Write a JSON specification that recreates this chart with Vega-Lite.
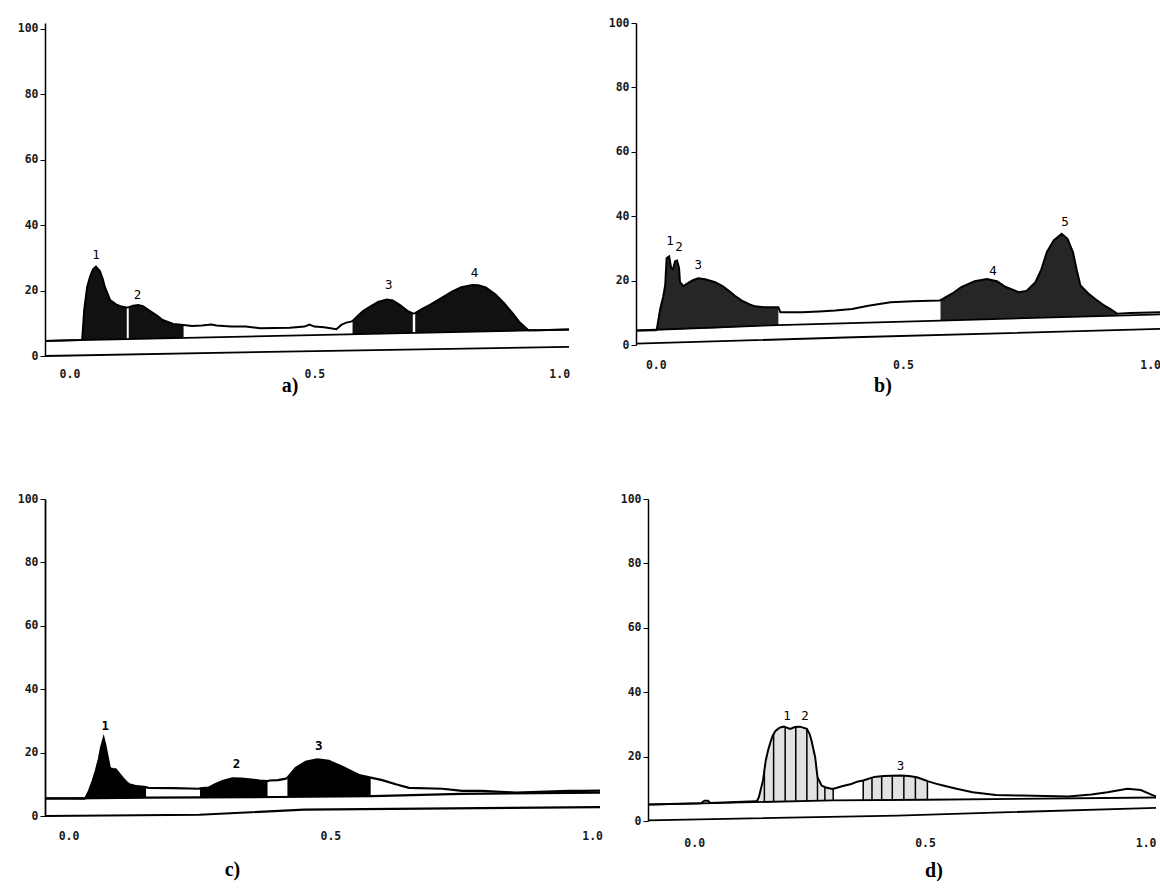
{
"$schema": "https://vega.github.io/schema/vega-lite/v6.json",
"background": "white",
"padding": {"left": 17, "top": 17, "right": 0, "bottom": 0},
"config": {
  "view": {"stroke": null},
  "axis": {"grid": false, "domainColor": "black", "tickColor": "black", "labelColor": "#1a1a1a", "labelFont": "DejaVu Sans Mono", "labelFontSize": 11.5, "labelFontWeight": "bold", "title": null},
  "text": {"font": "DejaVu Sans Mono", "fontSize": 12.5, "color": "black", "baseline": "middle"}
},
"datasets": {
"curve": [
{"p":"a","x":-0.05,"y":4.6,"b":4.6,"s":""},{"p":"a","x":0.02,"y":4.9,"b":4.9,"s":""},
{"p":"a","x":0.026,"y":5.0,"b":4.9,"s":"p1"},{"p":"a","x":0.03,"y":14.0,"b":4.9,"s":"p1"},{"p":"a","x":0.036,"y":21.0,"b":4.9,"s":"p1"},{"p":"a","x":0.042,"y":24.3,"b":4.9,"s":"p1"},{"p":"a","x":0.048,"y":26.5,"b":5.0,"s":"p1"},{"p":"a","x":0.054,"y":27.3,"b":5.0,"s":"p1"},{"p":"a","x":0.062,"y":26.0,"b":5.0,"s":"p1"},{"p":"a","x":0.068,"y":23.5,"b":5.0,"s":"p1"},{"p":"a","x":0.072,"y":21.2,"b":5.0,"s":"p1"},{"p":"a","x":0.083,"y":17.1,"b":5.1,"s":"p1"},{"p":"a","x":0.095,"y":15.8,"b":5.1,"s":"p1"},{"p":"a","x":0.106,"y":15.1,"b":5.1,"s":"p1"},{"p":"a","x":0.117,"y":14.8,"b":5.2,"s":"p1"},
{"p":"a","x":0.121,"y":14.9,"b":5.2,"s":"p2"},{"p":"a","x":0.13,"y":15.4,"b":5.2,"s":"p2"},{"p":"a","x":0.14,"y":15.6,"b":5.2,"s":"p2"},{"p":"a","x":0.15,"y":15.2,"b":5.3,"s":"p2"},{"p":"a","x":0.167,"y":13.5,"b":5.3,"s":"p2"},{"p":"a","x":0.18,"y":12.2,"b":5.4,"s":"p2"},{"p":"a","x":0.19,"y":11.0,"b":5.4,"s":"p2"},{"p":"a","x":0.212,"y":9.8,"b":5.5,"s":"p2"},{"p":"a","x":0.233,"y":9.5,"b":5.5,"s":"p2"},
{"p":"a","x":0.25,"y":9.2,"b":5.6,"s":""},{"p":"a","x":0.27,"y":9.3,"b":5.6,"s":""},{"p":"a","x":0.29,"y":9.6,"b":5.7,"s":""},{"p":"a","x":0.3,"y":9.3,"b":5.7,"s":""},{"p":"a","x":0.33,"y":9.0,"b":5.8,"s":""},{"p":"a","x":0.36,"y":9.0,"b":5.9,"s":""},{"p":"a","x":0.39,"y":8.5,"b":6.0,"s":""},{"p":"a","x":0.45,"y":8.6,"b":6.2,"s":""},{"p":"a","x":0.48,"y":9.0,"b":6.3,"s":""},{"p":"a","x":0.49,"y":9.6,"b":6.3,"s":""},{"p":"a","x":0.5,"y":9.0,"b":6.3,"s":""},{"p":"a","x":0.52,"y":8.8,"b":6.4,"s":""},{"p":"a","x":0.545,"y":8.2,"b":6.5,"s":""},{"p":"a","x":0.555,"y":9.5,"b":6.5,"s":""},{"p":"a","x":0.565,"y":10.2,"b":6.6,"s":""},{"p":"a","x":0.575,"y":10.5,"b":6.6,"s":""},
{"p":"a","x":0.578,"y":10.7,"b":6.6,"s":"p3"},{"p":"a","x":0.59,"y":12.5,"b":6.7,"s":"p3"},{"p":"a","x":0.6,"y":13.8,"b":6.7,"s":"p3"},{"p":"a","x":0.614,"y":15.1,"b":6.8,"s":"p3"},{"p":"a","x":0.63,"y":16.5,"b":6.8,"s":"p3"},{"p":"a","x":0.648,"y":17.3,"b":6.9,"s":"p3"},{"p":"a","x":0.66,"y":17.0,"b":6.9,"s":"p3"},{"p":"a","x":0.675,"y":15.6,"b":6.9,"s":"p3"},{"p":"a","x":0.69,"y":13.8,"b":7.0,"s":"p3"},{"p":"a","x":0.701,"y":13.0,"b":7.0,"s":"p3"},
{"p":"a","x":0.706,"y":13.1,"b":7.0,"s":"p4"},{"p":"a","x":0.72,"y":14.4,"b":7.1,"s":"p4"},{"p":"a","x":0.736,"y":15.6,"b":7.1,"s":"p4"},{"p":"a","x":0.76,"y":17.8,"b":7.2,"s":"p4"},{"p":"a","x":0.781,"y":19.7,"b":7.3,"s":"p4"},{"p":"a","x":0.8,"y":21.0,"b":7.3,"s":"p4"},{"p":"a","x":0.823,"y":21.7,"b":7.4,"s":"p4"},{"p":"a","x":0.835,"y":21.6,"b":7.4,"s":"p4"},{"p":"a","x":0.85,"y":21.0,"b":7.5,"s":"p4"},{"p":"a","x":0.87,"y":18.8,"b":7.5,"s":"p4"},{"p":"a","x":0.888,"y":16.1,"b":7.6,"s":"p4"},{"p":"a","x":0.905,"y":13.0,"b":7.6,"s":"p4"},{"p":"a","x":0.918,"y":10.5,"b":7.7,"s":"p4"},{"p":"a","x":0.937,"y":7.9,"b":7.7,"s":"p4"},
{"p":"a","x":0.96,"y":7.9,"b":7.8,"s":""},{"p":"a","x":1.02,"y":8.1,"b":8.1,"s":""},

{"p":"b","x":-0.04,"y":4.5,"b":4.5,"s":""},{"p":"b","x":0.0,"y":4.6,"b":4.6,"s":""},
{"p":"b","x":0.002,"y":4.8,"b":4.7,"s":"s1"},{"p":"b","x":0.009,"y":11.2,"b":4.7,"s":"s1"},{"p":"b","x":0.015,"y":15.0,"b":4.7,"s":"s1"},{"p":"b","x":0.019,"y":18.5,"b":4.8,"s":"s1"},{"p":"b","x":0.022,"y":27.0,"b":4.8,"s":"s1"},{"p":"b","x":0.027,"y":27.5,"b":4.8,"s":"s1"},{"p":"b","x":0.031,"y":24.0,"b":4.8,"s":"s1"},{"p":"b","x":0.035,"y":23.6,"b":4.8,"s":"s1"},{"p":"b","x":0.039,"y":26.0,"b":4.8,"s":"s1"},{"p":"b","x":0.043,"y":26.2,"b":4.9,"s":"s1"},{"p":"b","x":0.047,"y":24.0,"b":4.9,"s":"s1"},{"p":"b","x":0.049,"y":19.5,"b":4.9,"s":"s1"},{"p":"b","x":0.056,"y":18.3,"b":4.9,"s":"s1"},{"p":"b","x":0.065,"y":19.2,"b":5.0,"s":"s1"},{"p":"b","x":0.075,"y":20.1,"b":5.0,"s":"s1"},{"p":"b","x":0.086,"y":20.7,"b":5.1,"s":"s1"},{"p":"b","x":0.1,"y":20.4,"b":5.1,"s":"s1"},{"p":"b","x":0.12,"y":19.5,"b":5.2,"s":"s1"},{"p":"b","x":0.135,"y":18.3,"b":5.3,"s":"s1"},{"p":"b","x":0.147,"y":16.9,"b":5.4,"s":"s1"},{"p":"b","x":0.16,"y":15.3,"b":5.5,"s":"s1"},{"p":"b","x":0.174,"y":13.8,"b":5.6,"s":"s1"},{"p":"b","x":0.19,"y":12.6,"b":5.7,"s":"s1"},{"p":"b","x":0.201,"y":12.0,"b":5.8,"s":"s1"},{"p":"b","x":0.22,"y":11.7,"b":6.0,"s":"s1"},{"p":"b","x":0.248,"y":11.7,"b":6.2,"s":"s1"},
{"p":"b","x":0.252,"y":10.2,"b":6.2,"s":""},{"p":"b","x":0.296,"y":10.2,"b":6.4,"s":""},{"p":"b","x":0.33,"y":10.4,"b":6.6,"s":""},{"p":"b","x":0.363,"y":10.7,"b":6.7,"s":""},{"p":"b","x":0.397,"y":11.2,"b":6.9,"s":""},{"p":"b","x":0.43,"y":12.2,"b":7.0,"s":""},{"p":"b","x":0.475,"y":13.3,"b":7.2,"s":""},{"p":"b","x":0.52,"y":13.6,"b":7.4,"s":""},{"p":"b","x":0.573,"y":13.8,"b":7.6,"s":""},
{"p":"b","x":0.576,"y":13.9,"b":7.6,"s":"s2"},{"p":"b","x":0.6,"y":16.0,"b":7.7,"s":"s2"},{"p":"b","x":0.618,"y":18.0,"b":7.8,"s":"s2"},{"p":"b","x":0.645,"y":19.8,"b":7.9,"s":"s2"},{"p":"b","x":0.67,"y":20.5,"b":8.0,"s":"s2"},{"p":"b","x":0.69,"y":19.8,"b":8.1,"s":"s2"},{"p":"b","x":0.708,"y":18.0,"b":8.2,"s":"s2"},{"p":"b","x":0.734,"y":16.4,"b":8.3,"s":"s2"},{"p":"b","x":0.75,"y":16.8,"b":8.4,"s":"s2"},{"p":"b","x":0.768,"y":19.5,"b":8.4,"s":"s2"},{"p":"b","x":0.78,"y":23.5,"b":8.5,"s":"s2"},{"p":"b","x":0.791,"y":28.8,"b":8.5,"s":"s2"},{"p":"b","x":0.805,"y":32.5,"b":8.6,"s":"s2"},{"p":"b","x":0.821,"y":34.5,"b":8.6,"s":"s2"},{"p":"b","x":0.833,"y":33.0,"b":8.7,"s":"s2"},{"p":"b","x":0.844,"y":28.8,"b":8.7,"s":"s2"},{"p":"b","x":0.852,"y":23.0,"b":8.8,"s":"s2"},{"p":"b","x":0.859,"y":18.5,"b":8.8,"s":"s2"},{"p":"b","x":0.875,"y":16.0,"b":8.9,"s":"s2"},{"p":"b","x":0.889,"y":14.3,"b":8.9,"s":"s2"},{"p":"b","x":0.905,"y":12.5,"b":9.0,"s":"s2"},{"p":"b","x":0.919,"y":11.2,"b":9.0,"s":"s2"},{"p":"b","x":0.934,"y":9.7,"b":9.1,"s":"s2"},
{"p":"b","x":0.96,"y":9.9,"b":9.2,"s":""},{"p":"b","x":1.02,"y":10.2,"b":9.5,"s":""},

{"p":"c","x":-0.045,"y":5.6,"b":5.5,"s":""},{"p":"c","x":0.03,"y":5.5,"b":5.5,"s":""},
{"p":"c","x":0.032,"y":5.6,"b":5.5,"s":"c1"},{"p":"c","x":0.039,"y":7.9,"b":5.5,"s":"c1"},{"p":"c","x":0.046,"y":11.0,"b":5.5,"s":"c1"},{"p":"c","x":0.052,"y":14.2,"b":5.5,"s":"c1"},{"p":"c","x":0.058,"y":18.0,"b":5.6,"s":"c1"},{"p":"c","x":0.062,"y":21.5,"b":5.6,"s":"c1"},{"p":"c","x":0.067,"y":24.5,"b":5.6,"s":"c1"},{"p":"c","x":0.07,"y":22.5,"b":5.6,"s":"c1"},{"p":"c","x":0.073,"y":20.0,"b":5.6,"s":"c1"},{"p":"c","x":0.079,"y":15.0,"b":5.6,"s":"c1"},{"p":"c","x":0.085,"y":14.8,"b":5.6,"s":"c1"},{"p":"c","x":0.09,"y":14.7,"b":5.6,"s":"c1"},{"p":"c","x":0.096,"y":13.5,"b":5.7,"s":"c1"},{"p":"c","x":0.103,"y":12.1,"b":5.7,"s":"c1"},{"p":"c","x":0.11,"y":10.8,"b":5.7,"s":"c1"},{"p":"c","x":0.116,"y":10.0,"b":5.7,"s":"c1"},{"p":"c","x":0.13,"y":9.4,"b":5.7,"s":"c1"},{"p":"c","x":0.148,"y":9.1,"b":5.8,"s":"c1"},
{"p":"c","x":0.152,"y":8.9,"b":5.8,"s":""},{"p":"c","x":0.2,"y":8.8,"b":5.8,"s":""},{"p":"c","x":0.249,"y":8.6,"b":5.9,"s":""},
{"p":"c","x":0.251,"y":8.7,"b":5.9,"s":"c2"},{"p":"c","x":0.268,"y":9.0,"b":5.9,"s":"c2"},{"p":"c","x":0.28,"y":10.0,"b":5.9,"s":"c2"},{"p":"c","x":0.294,"y":11.0,"b":5.9,"s":"c2"},{"p":"c","x":0.313,"y":11.9,"b":6.0,"s":"c2"},{"p":"c","x":0.33,"y":11.8,"b":6.0,"s":"c2"},{"p":"c","x":0.345,"y":11.6,"b":6.0,"s":"c2"},{"p":"c","x":0.365,"y":11.2,"b":6.0,"s":"c2"},{"p":"c","x":0.38,"y":11.0,"b":6.0,"s":"c2"},
{"p":"c","x":0.384,"y":11.2,"b":6.0,"s":""},{"p":"c","x":0.4,"y":11.3,"b":6.0,"s":""},{"p":"c","x":0.415,"y":11.8,"b":6.0,"s":""},
{"p":"c","x":0.418,"y":12.1,"b":6.0,"s":"c3"},{"p":"c","x":0.434,"y":15.2,"b":6.1,"s":"c3"},{"p":"c","x":0.453,"y":17.1,"b":6.1,"s":"c3"},{"p":"c","x":0.475,"y":17.9,"b":6.1,"s":"c3"},{"p":"c","x":0.497,"y":17.4,"b":6.2,"s":"c3"},{"p":"c","x":0.523,"y":15.5,"b":6.2,"s":"c3"},{"p":"c","x":0.54,"y":14.1,"b":6.2,"s":"c3"},{"p":"c","x":0.555,"y":12.9,"b":6.3,"s":"c3"},{"p":"c","x":0.577,"y":12.1,"b":6.3,"s":"c3"},
{"p":"c","x":0.599,"y":11.3,"b":6.4,"s":""},{"p":"c","x":0.625,"y":10.0,"b":6.5,"s":""},{"p":"c","x":0.65,"y":8.9,"b":6.6,"s":""},{"p":"c","x":0.714,"y":8.6,"b":6.9,"s":""},{"p":"c","x":0.752,"y":7.9,"b":7.0,"s":""},{"p":"c","x":0.79,"y":7.9,"b":7.1,"s":""},{"p":"c","x":0.854,"y":7.4,"b":7.2,"s":""},{"p":"c","x":0.956,"y":7.9,"b":7.3,"s":""},{"p":"c","x":0.981,"y":7.9,"b":7.4,"s":""},{"p":"c","x":1.015,"y":8.0,"b":7.4,"s":""},

{"p":"d","x":-0.1,"y":5.1,"b":5.1,"s":""},{"p":"d","x":0.015,"y":5.5,"b":5.5,"s":""},{"p":"d","x":0.022,"y":6.3,"b":5.5,"s":""},{"p":"d","x":0.03,"y":6.3,"b":5.5,"s":""},{"p":"d","x":0.035,"y":5.6,"b":5.6,"s":""},{"p":"d","x":0.133,"y":6.1,"b":6.1,"s":""},
{"p":"d","x":0.136,"y":6.2,"b":6.1,"s":"d1"},{"p":"d","x":0.14,"y":7.4,"b":6.1,"s":"d1"},{"p":"d","x":0.149,"y":12.6,"b":6.2,"s":"d1"},{"p":"d","x":0.155,"y":18.8,"b":6.2,"s":"d1"},{"p":"d","x":0.16,"y":22.0,"b":6.2,"s":"d1"},{"p":"d","x":0.165,"y":24.4,"b":6.2,"s":"d1"},{"p":"d","x":0.17,"y":26.5,"b":6.2,"s":"d1"},{"p":"d","x":0.176,"y":28.0,"b":6.2,"s":"d1"},{"p":"d","x":0.185,"y":29.0,"b":6.2,"s":"d1"},{"p":"d","x":0.194,"y":29.3,"b":6.2,"s":"d1"},{"p":"d","x":0.208,"y":28.6,"b":6.3,"s":"d1"},{"p":"d","x":0.218,"y":29.2,"b":6.3,"s":"d1"},{"p":"d","x":0.229,"y":29.3,"b":6.3,"s":"d1"},{"p":"d","x":0.244,"y":28.6,"b":6.3,"s":"d1"},{"p":"d","x":0.25,"y":27.0,"b":6.3,"s":"d1"},{"p":"d","x":0.254,"y":25.0,"b":6.3,"s":"d1"},{"p":"d","x":0.262,"y":19.8,"b":6.3,"s":"d1"},{"p":"d","x":0.267,"y":13.6,"b":6.3,"s":"d1"},{"p":"d","x":0.276,"y":11.0,"b":6.4,"s":"d1"},{"p":"d","x":0.285,"y":10.4,"b":6.4,"s":"d1"},{"p":"d","x":0.297,"y":10.0,"b":6.4,"s":"d1"},{"p":"d","x":0.302,"y":10.0,"b":6.4,"s":"d1"},
{"p":"d","x":0.32,"y":10.8,"b":6.4,"s":""},{"p":"d","x":0.34,"y":11.5,"b":6.5,"s":""},{"p":"d","x":0.355,"y":12.3,"b":6.5,"s":""},
{"p":"d","x":0.366,"y":12.6,"b":6.5,"s":"d2"},{"p":"d","x":0.39,"y":13.7,"b":6.5,"s":"d2"},{"p":"d","x":0.41,"y":14.0,"b":6.5,"s":"d2"},{"p":"d","x":0.447,"y":14.1,"b":6.5,"s":"d2"},{"p":"d","x":0.465,"y":14.0,"b":6.6,"s":"d2"},{"p":"d","x":0.482,"y":13.6,"b":6.6,"s":"d2"},{"p":"d","x":0.496,"y":12.9,"b":6.6,"s":"d2"},{"p":"d","x":0.507,"y":12.3,"b":6.6,"s":"d2"},
{"p":"d","x":0.523,"y":11.6,"b":6.6,"s":""},{"p":"d","x":0.539,"y":11.0,"b":6.6,"s":""},{"p":"d","x":0.568,"y":10.0,"b":6.7,"s":""},{"p":"d","x":0.603,"y":8.9,"b":6.7,"s":""},{"p":"d","x":0.653,"y":8.1,"b":6.8,"s":""},{"p":"d","x":0.71,"y":7.9,"b":6.9,"s":""},{"p":"d","x":0.81,"y":7.6,"b":7.0,"s":""},{"p":"d","x":0.86,"y":8.2,"b":7.1,"s":""},{"p":"d","x":0.895,"y":8.9,"b":7.1,"s":""},{"p":"d","x":0.938,"y":10.0,"b":7.2,"s":""},{"p":"d","x":0.967,"y":9.6,"b":7.2,"s":""},{"p":"d","x":0.995,"y":7.9,"b":7.3,"s":""},{"p":"d","x":1.0,"y":7.6,"b":7.3,"s":""}
],
"guides": [
{"p":"a","k":"base","x":-0.05,"y":4.6},{"p":"a","k":"base","x":1.02,"y":8.1},
{"p":"a","k":"zero","x":-0.05,"y":0.0},{"p":"a","k":"zero","x":0.5,"y":1.5},{"p":"a","k":"zero","x":1.02,"y":2.8},
{"p":"b","k":"base","x":-0.04,"y":4.5},{"p":"b","k":"base","x":0.248,"y":6.2},{"p":"b","k":"base","x":0.576,"y":7.6},{"p":"b","k":"base","x":0.934,"y":9.1},{"p":"b","k":"base","x":1.02,"y":9.5},
{"p":"b","k":"zero","x":-0.04,"y":0.4},{"p":"b","k":"zero","x":0.4,"y":2.4},{"p":"b","k":"zero","x":1.02,"y":5.0},
{"p":"c","k":"base","x":-0.045,"y":5.5},{"p":"c","k":"base","x":0.15,"y":5.8},{"p":"c","k":"base","x":0.4,"y":6.0},{"p":"c","k":"base","x":0.58,"y":6.3},{"p":"c","k":"base","x":0.75,"y":7.0},{"p":"c","k":"base","x":1.015,"y":7.4},
{"p":"c","k":"zero","x":-0.045,"y":0.0},{"p":"c","k":"zero","x":0.25,"y":0.4},{"p":"c","k":"zero","x":0.45,"y":2.0},{"p":"c","k":"zero","x":1.015,"y":2.8},
{"p":"d","k":"base","x":-0.1,"y":5.1},{"p":"d","k":"base","x":0.3,"y":6.4},{"p":"d","k":"base","x":0.5,"y":6.6},{"p":"d","k":"base","x":1.0,"y":7.3},
{"p":"d","k":"zero","x":-0.1,"y":0.2},{"p":"d","k":"zero","x":0.44,"y":1.7},{"p":"d","k":"zero","x":1.0,"y":4.1}
],
"labels": [
{"p":"a","x":0.054,"y":30.9,"t":"1"},{"p":"a","x":0.139,"y":18.7,"t":"2"},{"p":"a","x":0.652,"y":21.7,"t":"3"},{"p":"a","x":0.827,"y":25.3,"t":"4"},
{"p":"b","x":0.029,"y":32.4,"t":"1"},{"p":"b","x":0.047,"y":30.5,"t":"2"},{"p":"b","x":0.086,"y":24.7,"t":"3"},{"p":"b","x":0.682,"y":23.1,"t":"4"},{"p":"b","x":0.828,"y":38.1,"t":"5"},
{"p":"c","x":0.07,"y":28.4,"t":"1"},{"p":"c","x":0.321,"y":16.3,"t":"2"},{"p":"c","x":0.478,"y":22.1,"t":"3"},
{"p":"d","x":0.201,"y":32.7,"t":"1"},{"p":"d","x":0.24,"y":32.7,"t":"2"},{"p":"d","x":0.447,"y":17.2,"t":"3"}
],
"rules": [
{"x":0.152,"y":15.5,"b":6.2},{"x":0.172,"y":27.0,"b":6.2},{"x":0.197,"y":29.2,"b":6.2},{"x":0.22,"y":29.2,"b":6.3},{"x":0.244,"y":28.6,"b":6.3},{"x":0.267,"y":13.6,"b":6.3},{"x":0.283,"y":10.5,"b":6.4},{"x":0.301,"y":10.0,"b":6.4},
{"x":0.366,"y":12.6,"b":6.5},{"x":0.385,"y":13.5,"b":6.5},{"x":0.406,"y":13.9,"b":6.5},{"x":0.429,"y":14.1,"b":6.5},{"x":0.454,"y":14.1,"b":6.5},{"x":0.479,"y":13.7,"b":6.6},{"x":0.505,"y":12.4,"b":6.6}
]
},
"spacing": 97,
"vconcat": [
{"bounds": "flush", "spacing": 67, "hconcat": [
 {"width": 524, "height": 333,
  "title": {"text": "a)", "orient": "bottom", "anchor": "middle", "frame": "group", "dx": -17, "offset": -4, "font": "Liberation Serif", "fontSize": 20, "fontWeight": "bold", "color": "black"},
  "layer": [
   {"data": {"name": "curve"}, "transform": [{"filter": "datum.p == 'a' && datum.s != ''"}], "mark": {"type": "area", "color": "#111", "opacity": 1},
    "encoding": {"x": {"field": "x", "type": "quantitative", "scale": {"domain": [-0.05, 1.02], "nice": false, "zero": false}, "axis": {"values": [0, 0.5, 1], "format": ".1f", "domain": false, "ticks": false, "labelPadding": 12}},
     "y": {"field": "y", "type": "quantitative", "scale": {"domain": [0, 101.8], "nice": false}, "axis": {"values": [0,10,20,30,40,50,60,70,80,90,100], "labelExpr": "datum.value % 20 == 0 ? datum.label : ''", "tickSize": 5, "domainWidth": 1.5, "labelPadding": 2}},
     "y2": {"field": "b"}, "detail": {"field": "s"}}},
   {"data": {"name": "curve"}, "transform": [{"filter": "datum.p == 'a'"}], "mark": {"type": "line", "color": "black", "strokeWidth": 2},
    "encoding": {"x": {"field": "x", "type": "quantitative"}, "y": {"field": "y", "type": "quantitative"}}},
   {"data": {"name": "guides"}, "transform": [{"filter": "datum.p == 'a'"}], "mark": {"type": "line", "color": "black", "strokeWidth": 1.8},
    "encoding": {"x": {"field": "x", "type": "quantitative"}, "y": {"field": "y", "type": "quantitative"}, "detail": {"field": "k"}}},
   {"data": {"name": "labels"}, "transform": [{"filter": "datum.p == 'a'"}], "mark": {"type": "text"},
    "encoding": {"x": {"field": "x", "type": "quantitative"}, "y": {"field": "y", "type": "quantitative"}, "text": {"field": "t"}}}
  ]},
 {"width": 524, "height": 322,
  "title": {"text": "b)", "orient": "bottom", "anchor": "middle", "frame": "group", "dx": -15, "offset": 5, "font": "Liberation Serif", "fontSize": 20, "fontWeight": "bold", "color": "black"},
  "layer": [
   {"data": {"name": "curve"}, "transform": [{"filter": "datum.p == 'b' && datum.s != ''"}], "mark": {"type": "area", "color": "#262626", "opacity": 1},
    "encoding": {"x": {"field": "x", "type": "quantitative", "scale": {"domain": [-0.04, 1.02], "nice": false, "zero": false}, "axis": {"values": [0, 0.5, 1], "format": ".1f", "domain": false, "ticks": false, "labelPadding": 14}},
     "y": {"field": "y", "type": "quantitative", "scale": {"domain": [0, 100], "nice": false}, "axis": {"values": [0,10,20,30,40,50,60,70,80,90,100], "labelExpr": "datum.value % 20 == 0 ? datum.label : ''", "tickSize": 5, "domainWidth": 1.5, "labelPadding": 2}},
     "y2": {"field": "b"}, "detail": {"field": "s"}}},
   {"data": {"name": "curve"}, "transform": [{"filter": "datum.p == 'b'"}], "mark": {"type": "line", "color": "black", "strokeWidth": 2},
    "encoding": {"x": {"field": "x", "type": "quantitative"}, "y": {"field": "y", "type": "quantitative"}}},
   {"data": {"name": "guides"}, "transform": [{"filter": "datum.p == 'b'"}], "mark": {"type": "line", "color": "black", "strokeWidth": 1.8},
    "encoding": {"x": {"field": "x", "type": "quantitative"}, "y": {"field": "y", "type": "quantitative"}, "detail": {"field": "k"}}},
   {"data": {"name": "labels"}, "transform": [{"filter": "datum.p == 'b'"}], "mark": {"type": "text"},
    "encoding": {"x": {"field": "x", "type": "quantitative"}, "y": {"field": "y", "type": "quantitative"}, "text": {"field": "t"}}}
  ]}
]},
{"bounds": "flush", "spacing": 48, "hconcat": [
 {"width": 555, "height": 317,
  "title": {"text": "c)", "orient": "bottom", "anchor": "middle", "frame": "group", "dx": -90, "offset": 18, "font": "Liberation Serif", "fontSize": 20, "fontWeight": "bold", "color": "black"},
  "layer": [
   {"data": {"name": "curve"}, "transform": [{"filter": "datum.p == 'c' && datum.s != ''"}], "mark": {"type": "area", "color": "black", "opacity": 1},
    "encoding": {"x": {"field": "x", "type": "quantitative", "scale": {"domain": [-0.045, 1.015], "nice": false, "zero": false}, "axis": {"values": [0, 0.5, 1], "format": ".1f", "domain": false, "ticks": false, "labelPadding": 14}},
     "y": {"field": "y", "type": "quantitative", "scale": {"domain": [0, 100], "nice": false}, "axis": {"values": [0,10,20,30,40,50,60,70,80,90,100], "labelExpr": "datum.value % 20 == 0 ? datum.label : ''", "tickSize": 5, "domainWidth": 1.8, "labelPadding": 2}},
     "y2": {"field": "b"}, "detail": {"field": "s"}}},
   {"data": {"name": "curve"}, "transform": [{"filter": "datum.p == 'c'"}], "mark": {"type": "line", "color": "black", "strokeWidth": 2.2},
    "encoding": {"x": {"field": "x", "type": "quantitative"}, "y": {"field": "y", "type": "quantitative"}}},
   {"data": {"name": "guides"}, "transform": [{"filter": "datum.p == 'c'"}], "mark": {"type": "line", "color": "black", "strokeWidth": 2.2},
    "encoding": {"x": {"field": "x", "type": "quantitative"}, "y": {"field": "y", "type": "quantitative"}, "detail": {"field": "k"}}},
   {"data": {"name": "labels"}, "transform": [{"filter": "datum.p == 'c'"}], "mark": {"type": "text", "fontWeight": "bold"},
    "encoding": {"x": {"field": "x", "type": "quantitative"}, "y": {"field": "y", "type": "quantitative"}, "text": {"field": "t"}}}
  ]},
 {"width": 508, "height": 322,
  "title": {"text": "d)", "orient": "bottom", "anchor": "middle", "frame": "group", "dx": 32, "offset": 12, "font": "Liberation Serif", "fontSize": 20, "fontWeight": "bold", "color": "black"},
  "layer": [
   {"data": {"name": "curve"}, "transform": [{"filter": "datum.p == 'd' && datum.s != ''"}], "mark": {"type": "area", "color": "#e2e2e2", "opacity": 1},
    "encoding": {"x": {"field": "x", "type": "quantitative", "scale": {"domain": [-0.1, 1.0], "nice": false, "zero": false}, "axis": {"values": [0, 0.5, 1], "format": ".1f", "domain": false, "ticks": false, "labelPadding": 16, "labelAlign": {"condition": {"test": "datum.value == 1", "value": "right"}, "value": "center"}}},
     "y": {"field": "y", "type": "quantitative", "scale": {"domain": [0, 100], "nice": false}, "axis": {"values": [0,10,20,30,40,50,60,70,80,90,100], "labelExpr": "datum.value % 20 == 0 ? datum.label : ''", "tickSize": 5, "domainWidth": 1.5, "labelPadding": 2}},
     "y2": {"field": "b"}, "detail": {"field": "s"}}},
   {"data": {"name": "rules"}, "mark": {"type": "rule", "color": "black", "strokeWidth": 1.5},
    "encoding": {"x": {"field": "x", "type": "quantitative"}, "y": {"field": "y", "type": "quantitative"}, "y2": {"field": "b"}}},
   {"data": {"name": "curve"}, "transform": [{"filter": "datum.p == 'd'"}], "mark": {"type": "line", "color": "black", "strokeWidth": 2},
    "encoding": {"x": {"field": "x", "type": "quantitative"}, "y": {"field": "y", "type": "quantitative"}}},
   {"data": {"name": "guides"}, "transform": [{"filter": "datum.p == 'd'"}], "mark": {"type": "line", "color": "black", "strokeWidth": 1.8},
    "encoding": {"x": {"field": "x", "type": "quantitative"}, "y": {"field": "y", "type": "quantitative"}, "detail": {"field": "k"}}},
   {"data": {"name": "labels"}, "transform": [{"filter": "datum.p == 'd'"}], "mark": {"type": "text"},
    "encoding": {"x": {"field": "x", "type": "quantitative"}, "y": {"field": "y", "type": "quantitative"}, "text": {"field": "t"}}}
  ]}
]}
]
}
